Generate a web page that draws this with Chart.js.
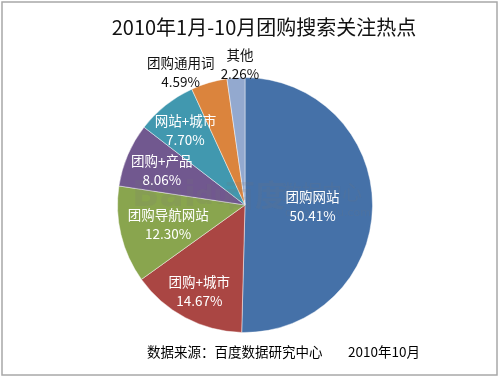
<!DOCTYPE html>
<html><head><meta charset="utf-8">
<script src="https://cdn.jsdelivr.net/npm/chart.js@4"></script>
<style>html,body{margin:0;padding:0;background:#fff}#wrap{width:500px;height:378px;position:relative}</style>
</head><body><div id="wrap"><canvas id="c" width="500" height="378"></canvas></div>
<script>
// ---- data ----
const categories = ['团购网站', '团购+城市', '团购导航网站', '团购+产品', '网站+城市', '团购通用词', '其他'];
const shares = [50.41, 14.67, 12.30, 8.06, 7.70, 4.59, 2.26];
const shareLabels = ['50.41%', '14.67%', '12.30%', '8.06%', '7.70%', '4.59%', '2.26%'];
const titleText = '2010年1月-10月团购搜索关注热点';
const sourceText = '数据来源：百度数据研究中心';
const dateText = '2010年10月';

// ---- style ----
const sliceColors = ['#4571A8', '#AA4643', '#89A54E', '#71588F', '#4198AF', '#DB843D', '#93A9CF'];
// label placement: fraction of radius along slice mid-angle, plus small nudge, and colour
const labelPlace = [
  {f: 0.53, dx: 0, dy: 0, c: '#fff'},
  {f: 0.765, dx: 0, dy: 0, c: '#fff'},
  {f: 0.62, dx: 0, dy: 0, c: '#fff'},
  {f: 0.71, dx: 0, dy: 0, c: '#fff'},
  {f: 0.75, dx: 0, dy: 0, c: '#fff'},
  {f: 1.12, dx: -24, dy: 4, c: '#111'},
  {f: 1.11, dx: 5, dy: 0, c: '#111'}
];
const CJK = '"Noto Sans CJK SC", "Noto Sans", sans-serif';

const decor = {
  id: 'decor',
  beforeDraw(chart) {
    const ctx = chart.ctx;
    ctx.save();
    ctx.fillStyle = '#fff';
    ctx.fillRect(0, 0, chart.width, chart.height);
    ctx.strokeStyle = '#a8a8a8';
    ctx.lineWidth = 1.5;
    ctx.strokeRect(2, 2, 495, 373);
    ctx.restore();
  },
  afterDatasetsDraw(chart) {
    const ctx = chart.ctx;
    const meta = chart.getDatasetMeta(0);
    ctx.save();
    // faint watermark
    ctx.fillStyle = 'rgba(120,120,120,0.16)';
    ctx.textAlign = 'left';
    ctx.textBaseline = 'middle';
    ctx.font = 'bold 36px "DejaVu Sans", sans-serif';
    ctx.fillText('Bai', 132, 197);
    ctx.font = 'bold 26px "DejaVu Sans", sans-serif';
    ctx.fillText('du', 195, 197);
    ctx.font = 'bold 30px ' + CJK;
    ctx.fillText('百度', 225, 195);
    ctx.font = '20px ' + CJK;
    ctx.fillText('数据中心', 282, 192);
    ctx.font = '11px "DejaVu Sans", sans-serif';
    ctx.fillText('data.baidu.com', 285, 213);

    // title
    ctx.fillStyle = '#111';
    ctx.textAlign = 'center';
    ctx.font = '20px ' + CJK;
    ctx.fillText(titleText, 264, 27);
    // footer
    ctx.font = '13.5px ' + CJK;
    ctx.textAlign = 'left';
    ctx.fillStyle = '#000';
    ctx.fillText(sourceText, 147, 352);
    ctx.fillText(dateText, 348, 352);

    // slice labels
    ctx.textAlign = 'center';
    meta.data.forEach((arc, i) => {
      const p = arc.getProps(['x', 'y', 'startAngle', 'endAngle', 'outerRadius'], true);
      const mid = (p.startAngle + p.endAngle) / 2;
      const L = labelPlace[i];
      const cx = p.x + Math.cos(mid) * p.outerRadius * L.f + L.dx;
      const cy = p.y + Math.sin(mid) * p.outerRadius * L.f + L.dy;
      ctx.fillStyle = L.c;
      ctx.font = '13.5px ' + CJK;
      ctx.fillText(categories[i], cx, cy - 9);
      ctx.fillText(shareLabels[i], cx, cy + 10);
    });
    ctx.restore();
  }
};

new Chart(document.getElementById('c'), {
  type: 'pie',
  data: {
    labels: categories,
    datasets: [{
      data: shares,
      backgroundColor: sliceColors,
      borderColor: 'rgba(255,255,255,0.45)',
      borderWidth: 1
    }]
  },
  options: {
    responsive: false,
    animation: false,
    layout: {padding: {left: 117, right: 127, top: 77, bottom: 45}},
    plugins: {legend: {display: false}, tooltip: {enabled: false}, title: {display: false}}
  },
  plugins: [decor]
});
</script>
</body></html>
